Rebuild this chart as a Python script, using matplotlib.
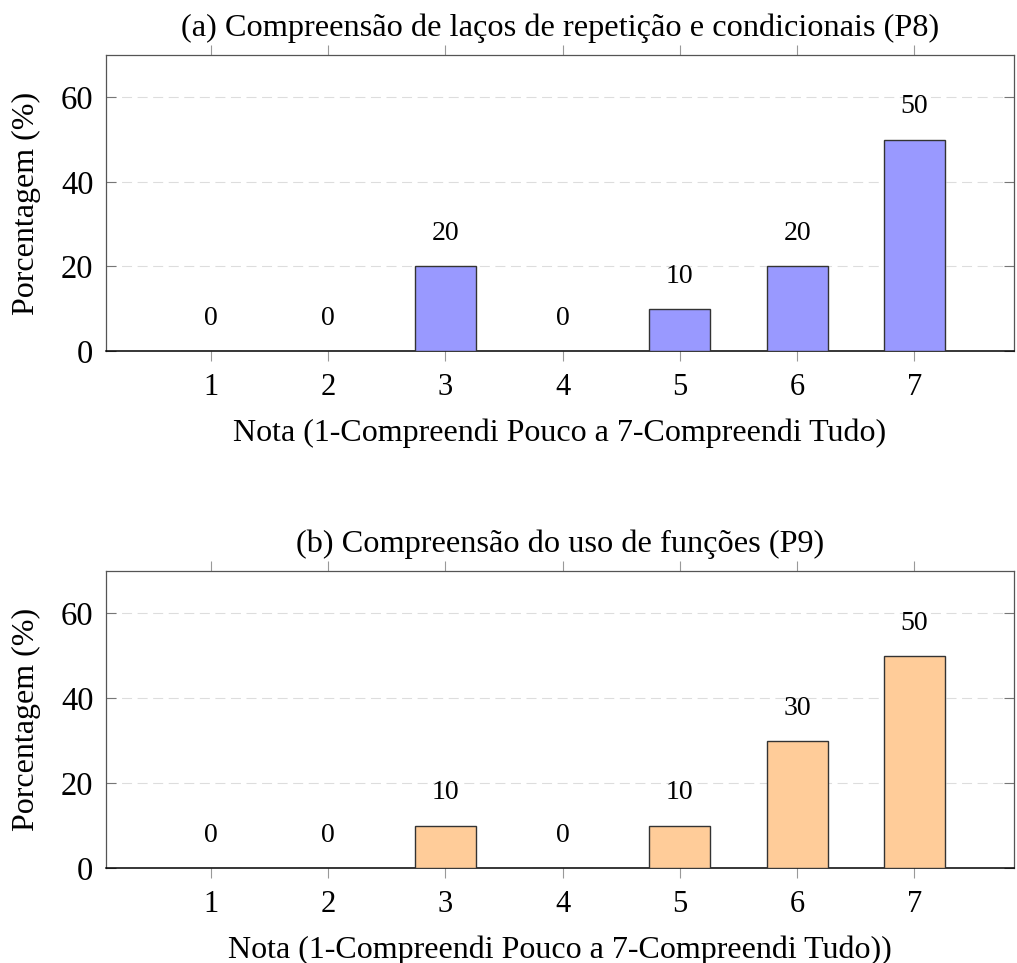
import matplotlib
matplotlib.use("Agg")
import matplotlib.pyplot as plt

plt.rcParams['font.family'] = ['Liberation Serif', 'DejaVu Serif']
plt.rcParams['mathtext.fontset'] = 'stix'

categories = [1, 2, 3, 4, 5, 6, 7]
values_p8 = [0, 0, 20, 0, 10, 20, 50]
values_p9 = [0, 0, 10, 0, 10, 30, 50]
title_p8 = "(a) Compreensão de laços de repetição e condicionais (P8)"
title_p9 = "(b) Compreensão do uso de funções (P9)"
xlabel_p8 = "Nota (1-Compreendi Pouco a 7-Compreendi Tudo)"
xlabel_p9 = "Nota (1-Compreendi Pouco a 7-Compreendi Tudo))"
ylabel = "Porcentagem (%)"
yticks = [0, 20, 40, 60]

W, H = 1017, 963
fig = plt.figure(figsize=(W / 100, H / 100), dpi=100)

def add_panel(top_px, bottom_px, values, color, title, xlabel):
    left_px, right_px = 106, 1014
    ax = fig.add_axes([left_px / W, 1 - bottom_px / H, (right_px - left_px) / W, (bottom_px - top_px) / H])
    ax.bar(categories, values, width=0.52, color=color, edgecolor='#333333', linewidth=1.0, zorder=3)
    for x, v in zip(categories, values):
        ax.annotate(f"{v}", (x, v), xytext=(0, 23.5), textcoords='offset points',
                    ha='center', va='center', fontsize=20)
    ax.set_xlim(0.105, 7.85)
    ax.set_ylim(0, 70)
    ax.set_xticks(categories)
    ax.set_yticks(yticks)
    ax.tick_params(axis='x', direction='out', top=True, bottom=True, labeltop=False,
                   labelsize=22, length=7, color='#999999', width=0.8, pad=9)
    ax.tick_params(axis='y', direction='in', left=True, right=True,
                   labelsize=23.5, length=7, color='#777777', width=0.8, pad=9)
    ax.yaxis.grid(True, linestyle=(0, (9, 5)), color='#dddddd', linewidth=0.8, zorder=0)
    ax.set_axisbelow(True)
    for s in ['left', 'right', 'top']:
        ax.spines[s].set_color('#555555')
        ax.spines[s].set_linewidth(0.9)
    ax.spines['bottom'].set_color('black')
    ax.spines['bottom'].set_linewidth(1.1)
    ax.set_title(title, fontsize=23.3, pad=14)
    ax.set_xlabel(xlabel, fontsize=23, labelpad=11.5)
    ax.set_ylabel(ylabel, fontsize=23, labelpad=14)
    return ax

add_panel(55, 351, values_p8, '#9999ff', title_p8, xlabel_p8)
add_panel(571, 868, values_p9, '#ffcc99', title_p9, xlabel_p9)

fig.savefig("out.png", dpi=100)
